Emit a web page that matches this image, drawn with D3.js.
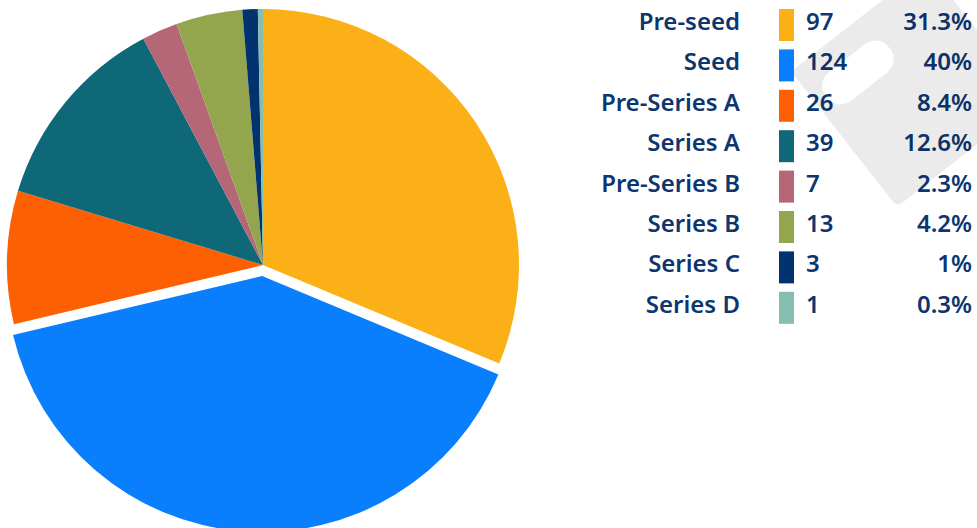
<!DOCTYPE html>
<html>
<head>
<meta charset="utf-8">
<script src="https://cdn.jsdelivr.net/npm/d3@7"></script>
<style>
  body { margin: 0; background: #fff; }
  svg { display: block; }
  text { font-family: "Noto Sans", sans-serif; font-weight: 600; fill: #0d3670; }
</style>
</head>
<body>
<svg id="chart" width="977" height="528"></svg>
<script>
// data
const stages = ['Pre-seed', 'Seed', 'Pre-Series A', 'Series A', 'Pre-Series B', 'Series B', 'Series C', 'Series D'];
const counts = [97, 124, 26, 39, 7, 13, 3, 1];
const shares = ['31.3%', '40%', '8.4%', '12.6%', '2.3%', '4.2%', '1%', '0.3%'];
const colors = ['#fbb017', '#0a7ffe', '#fc6002', '#0f6878', '#b56677', '#93a64e', '#03336f', '#85bdb0'];
const exploded = 'Seed';

const svg = d3.select('#chart');

let color = d3.scaleOrdinal().domain(stages).range(colors);

// pie
let cx = 263, cy = 265, radius = 256;
let rows = stages.map((s, i) => ({ stage: s, count: counts[i], share: shares[i] }));

let pie = d3.pie().sort(null).value(d => d.count);
let arc = d3.arc().innerRadius(0).outerRadius(radius);

let pieG = svg.append('g').attr('transform', `translate(${cx},${cy})`);

pieG.selectAll('path')
    .data(pie(rows))
    .join('path')
    .attr('d', arc)
    .attr('fill', d => color(d.data.stage))
    .attr('transform', d => {
        if (d.data.stage !== exploded) return null;
        let mid = (d.startAngle + d.endAngle) / 2;
        let off = 11;
        return `translate(${Math.sin(mid) * off},${-Math.cos(mid) * off})`;
    });

// legend
let y = d3.scaleBand().domain(stages).range([9, 323.8]).paddingInner(0.208).paddingOuter(0);

let legend = svg.append('g');

let row = legend.selectAll('g')
    .data(rows)
    .join('g')
    .attr('transform', d => `translate(0,${y(d.stage)})`);

row.append('text')
    .attr('x', 740)
    .attr('y', 21)
    .attr('text-anchor', 'end')
    .attr('font-size', 24)
    .text(d => d.stage);

row.append('rect')
    .attr('x', 779)
    .attr('width', 15)
    .attr('height', y.bandwidth())
    .attr('fill', d => color(d.stage));

row.append('text')
    .attr('x', 806)
    .attr('y', 21)
    .attr('font-size', 24)
    .text(d => d.count);

row.append('text')
    .attr('x', 972)
    .attr('y', 21)
    .attr('text-anchor', 'end')
    .attr('font-size', 24)
    .text(d => d.share);

// faint logo watermark over the legend (rotated block with a rounded hole)
function roundRect(p, x, y, w, h, r) {
    p.moveTo(x + r, y);
    p.arcTo(x + w, y, x + w, y + h, r);
    p.arcTo(x + w, y + h, x, y + h, r);
    p.arcTo(x, y + h, x, y, r);
    p.arcTo(x, y, x + w, y, r);
    p.closePath();
}
let mark = d3.path();
roundRect(mark, 0, -172, 172, 172, 6);
roundRect(mark, 12, -148, 80, 36, 17);

svg.append('path')
    .attr('d', mark.toString())
    .attr('transform', 'translate(897,207) rotate(-38)')
    .attr('fill', '#000')
    .attr('fill-rule', 'evenodd')
    .attr('opacity', 0.08);
</script>
</body>
</html>
